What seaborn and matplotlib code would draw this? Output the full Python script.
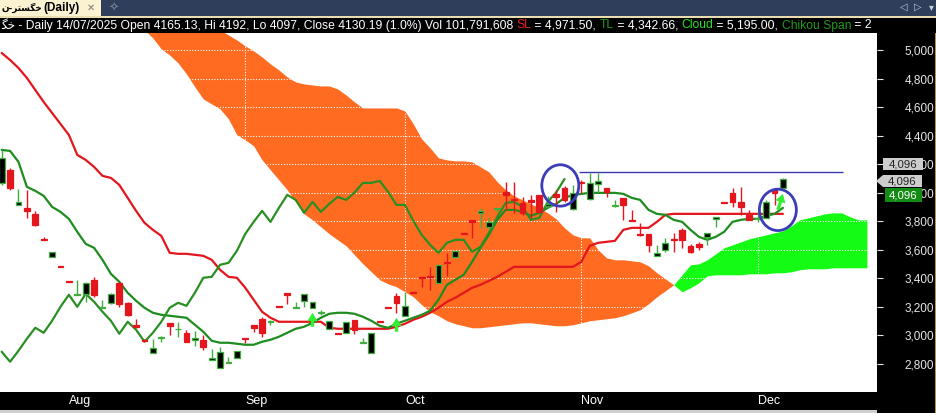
import numpy as np
import pandas as pd
import matplotlib
matplotlib.use("Agg")
import matplotlib.pyplot as plt
from matplotlib import font_manager
from matplotlib.patches import Rectangle, Ellipse, Polygon
import seaborn as sns

# ---- daily candles (bar 0 .. 93) ----
opens = [4069, 4160, 3915, 3894, 3852, 3677, 3551, 3488, 3383, 3285,
         3292, 3390, 3194, 3229, 3369, 3229, 3075, 2970, 2879, 2984,
         3089, 3043, 3019, 2970, 2970, 2830, 2774, 2809, 2844, 2984,
         3075, 3117, 3096, 3208, 3299, 3194, 3243, 3194, 3159, 3047,
         3019, 3019, 3110, 2949, 2879, 3103, 3201, 3278, 3138, 3306,
         3411, 3418, 3369, 3516, 3551, 3719, 3810, 3859, 3761, 3887,
         4006, 3957, 3929, 3950, 3985, 3908, 3992, 4034, 3887, 4076,
         3957, 4062, 4034, 3908, 3964, 3810, 3712, 3712, 3558, 3600,
         3677, 3740, 3628, 3642, 3691, 3817, 3936, 4001, 3936, 3845,
         3817, 3824, 4020, 4034]
highs = [4300, 4174, 4027, 4020, 3873, 3691, 3586, 3488, 3383, 3390,
         3376, 3411, 3250, 3299, 3376, 3236, 3117, 2977, 2977, 2998,
         3089, 3096, 3040, 3033, 3005, 2907, 2921, 2851, 2893, 2984,
         3075, 3131, 3110, 3208, 3299, 3236, 3292, 3236, 3180, 3103,
         3019, 3096, 3110, 2984, 3019, 3103, 3201, 3299, 3306, 3306,
         3411, 3481, 3502, 3579, 3593, 3719, 3810, 3894, 3831, 3894,
         4076, 4076, 3971, 3985, 3985, 3978, 4020, 4048, 4055, 4090,
         4139, 4139, 4034, 3950, 3964, 3880, 3789, 3712, 3635, 3684,
         3719, 3754, 3642, 3656, 3719, 3831, 3936, 4034, 4041, 3880,
         3866, 3950, 4020, 4104]
lows = [4055, 4020, 3915, 3824, 3768, 3670, 3551, 3481, 3376, 3285,
        3236, 3271, 3194, 3222, 3201, 3138, 3054, 2963, 2879, 2956,
        3005, 2991, 2956, 2928, 2900, 2830, 2774, 2809, 2844, 2949,
        3026, 2991, 3075, 3201, 3222, 3194, 3201, 3194, 3145, 3047,
        3012, 3019, 3012, 2949, 2879, 3096, 3194, 3159, 3138, 3299,
        3341, 3320, 3369, 3418, 3544, 3712, 3684, 3754, 3740, 3866,
        3880, 3859, 3845, 3824, 3859, 3894, 3866, 3936, 3880, 4001,
        3950, 4006, 3971, 3901, 3810, 3803, 3698, 3586, 3558, 3586,
        3586, 3614, 3579, 3600, 3635, 3761, 3929, 3901, 3845, 3810,
        3796, 3824, 3915, 4034]
closes = [4244, 4034, 3936, 3873, 3775, 3670, 3586, 3481, 3376, 3292,
          3369, 3285, 3201, 3292, 3222, 3145, 3061, 2963, 2914, 2991,
          3068, 3047, 2956, 2984, 2921, 2844, 2886, 2816, 2893, 2977,
          3054, 3019, 3103, 3201, 3285, 3201, 3292, 3236, 3166, 3103,
          3012, 3096, 3040, 2956, 3019, 3096, 3194, 3229, 3208, 3299,
          3404, 3411, 3495, 3509, 3593, 3712, 3796, 3873, 3796, 3894,
          3985, 3950, 3859, 3936, 3866, 3922, 3971, 3950, 4001, 4069,
          4069, 4083, 4006, 3915, 3915, 3803, 3705, 3635, 3579, 3649,
          3670, 3670, 3586, 3621, 3719, 3831, 3929, 3936, 3901, 3810,
          3824, 3936, 4001, 4096]

# ---- ichimoku lines ----
kijun = [4979, 4930, 4874, 4804, 4720, 4636, 4559, 4482, 4405, 4265,
         4230, 4181, 4118, 4104, 4055, 3964, 3873, 3789, 3740, 3698,
         3579, 3572, 3572, 3565, 3558, 3530, 3460, 3411, 3404, 3334,
         3250, 3166, 3124, 3096, 3096, 3096, 3096, 3096, 3096, 3054,
         3047, 3047, 3047, 3047, 3047, 3047, 3047, 3061, 3082, 3110,
         3131, 3159, 3194, 3236, 3264, 3299, 3334, 3355, 3383, 3411,
         3446, 3481, 3481, 3481, 3481, 3481, 3481, 3481, 3481, 3516,
         3628, 3649, 3656, 3663, 3740, 3754, 3754, 3754, 3796, 3845,
         3852, 3852, 3852, 3852, 3852, 3852, 3852, 3852, 3852, 3852,
         3852, 3852, 3852, 3852]
tenkan = [4300, 4293, 4216, 4041, 4013, 3978, 3901, 3866, 3817, 3726,
          3642, 3614, 3530, 3432, 3376, 3299, 3243, 3194, 3159, 3145,
          3138, 3131, 3124, 3075, 3026, 2963, 2949, 2949, 2942, 2935,
          2935, 2956, 2970, 2991, 3019, 3047, 3061, 3089, 3124, 3152,
          3159, 3159, 3152, 3131, 3103, 3068, 3054, 3082, 3103, 3124,
          3145, 3173, 3250, 3355, 3390, 3425, 3516, 3614, 3705, 3810,
          3880, 3880, 3866, 3838, 3859, 3894, 3922, 3964, 3985, 3992,
          3999, 3999, 3999, 3999, 3992, 3964, 3950, 3880, 3852, 3845,
          3810, 3796, 3740, 3691, 3670, 3691, 3726, 3796, 3810, 3817,
          3817, 3838, 3852, 3894]
# cloud, bars 12 .. 103
cloud_start = 12
senkou_a = [5490, 5420, 5350, 5266, 5196, 5140, 5084, 5007, 4965, 4909,
            4832, 4741, 4657, 4622, 4587, 4517, 4405, 4370, 4328, 4230,
            4160, 4090, 4020, 3936, 3852, 3810, 3761, 3712, 3670, 3628,
            3565, 3502, 3446, 3390, 3362, 3341, 3306, 3271, 3215, 3166,
            3138, 3103, 3082, 3068, 3054, 3054, 3061, 3068, 3075, 3082,
            3089, 3089, 3082, 3075, 3068, 3068, 3075, 3089, 3103, 3110,
            3117, 3124, 3138, 3159, 3180, 3222, 3271, 3313, 3355, 3425,
            3495, 3502, 3530, 3572, 3614, 3635, 3656, 3677, 3691, 3705,
            3719, 3733, 3768, 3810, 3824, 3838, 3852, 3859, 3859, 3831,
            3810, 3810]
senkou_b = [5630, 5595, 5560, 5525, 5490, 5434, 5385, 5336, 5280, 5245,
            5210, 5182, 5168, 5154, 5140, 5105, 5070, 5028, 4993, 4951,
            4902, 4860, 4811, 4776, 4762, 4755, 4748, 4748, 4727, 4685,
            4636, 4594, 4594, 4594, 4594, 4594, 4573, 4482, 4377, 4314,
            4244, 4230, 4223, 4223, 4216, 4181, 4146, 4076, 4020, 3978,
            3950, 3922, 3894, 3859, 3817, 3754, 3705, 3684, 3684, 3600,
            3544, 3530, 3530, 3523, 3516, 3488, 3439, 3397, 3355, 3306,
            3334, 3369, 3418, 3425, 3425, 3425, 3425, 3432, 3432, 3432,
            3439, 3439, 3446, 3460, 3467, 3467, 3467, 3474, 3474, 3474,
            3474, 3474]
chikou_shift = 26

month_labels = ["Aug", "Sep", "Oct", "Nov", "Dec"]
month_bars = [8, 29, 48, 69, 90]
price_ticks = list(range(2800, 5001, 200))

# annotations drawn on the chart
signal_bars = [37, 47, 93]
signal_tail = [3061, 3026, 3880]
signal_tip = [3159, 3124, 3992]
circle_bars = [66.5, 92.4]
circle_prices = [4051, 3880]
level_price = 4146
level_from, level_to = 68.7, 100.2
last_price_label = "4,096"

RED = "#E3161D"
UP = "#3FAE3F"
TL_GREEN = "#1F8C1F"
ORANGE = "#FF6B21"
LIME = "#14FC14"

sns.set_style("white")
plt.rcParams["font.family"] = ["Liberation Sans", "DejaVu Sans"]
names = {f.name for f in font_manager.fontManager.ttflist}
narrow = "Liberation Sans Narrow" if "Liberation Sans Narrow" in names else "Liberation Sans"

W, H = 937, 413
fig = plt.figure(figsize=(W / 100, H / 100), dpi=100, facecolor="black")
ax = fig.add_axes([0, 1 - 392 / H, 877 / W, (392 - 33) / H])
ax.set_facecolor("white")

x = np.arange(len(closes))
o, h, l, c = map(np.array, (opens, highs, lows, closes))

# cloud
cx = np.arange(cloud_start, cloud_start + len(senkou_a))
sa, sb = np.array(senkou_a), np.array(senkou_b)
ax.fill_between(cx, sa, sb, where=sb >= sa, interpolate=True, color=ORANGE, lw=0, zorder=1)
ax.fill_between(cx, sa, sb, where=sa >= sb, interpolate=True, color=LIME, lw=0, zorder=1)

# dotted white grid (only shows on the cloud)
for p in price_ticks:
    ax.axhline(p, color="white", ls=(0, (1, 1.5)), lw=0.8, zorder=1.5)
for m in month_bars:
    ax.axvline(m, color="white", ls=(0, (1, 1.5)), lw=0.8, zorder=1.5)

# ichimoku lines
lines = pd.DataFrame({"bar": x, "kijun": kijun, "tenkan": tenkan})
sns.lineplot(data=lines, x="bar", y="kijun", color=RED, lw=1.6, ax=ax, zorder=2)
sns.lineplot(data=lines, x="bar", y="tenkan", color=TL_GREEN, lw=1.6, ax=ax, zorder=2)
chikou = pd.DataFrame({"bar": x[:len(x) - chikou_shift], "close": c[chikou_shift:]})
sns.lineplot(data=chikou, x="bar", y="close", color="#2A8F22", lw=1.6, ax=ax, zorder=2)

# candles
up = c >= o
body_lo = np.minimum(o, c)
body_h = np.maximum(np.abs(c - o), 4)
ax.vlines(x[up], l[up], h[up], color=UP, lw=1, zorder=3)
ax.vlines(x[~up], l[~up], h[~up], color=RED, lw=1, zorder=3)
ax.bar(x[up], body_h[up], bottom=body_lo[up], width=0.7, color="black",
       edgecolor=UP, lw=0.9, zorder=4)
ax.bar(x[~up], body_h[~up], bottom=body_lo[~up], width=0.7, color=RED,
       edgecolor=RED, lw=0.9, zorder=4)

# signal arrows, circles, level line
for b, t0, t1 in zip(signal_bars, signal_tail, signal_tip):
    ax.annotate("", xy=(b, t1), xytext=(b - (0.6 if b == signal_bars[-1] else 0), t0),
                arrowprops=dict(width=2.4, headwidth=7.5, headlength=6, color="#33EE33", lw=0),
                zorder=5)
ax.hlines(level_price, level_from, level_to, color="#3A3AAA", lw=1, zorder=2)
for cb, cp in zip(circle_bars, circle_prices):
    ax.add_patch(Ellipse((cb, cp), 4.4, 290, fill=False, ec="#3C3CB8", lw=2, zorder=6))

ax.set_xlim(-0.2, 104.2)
ax.set_ylim(2604, 5119)
ax.set_xlabel("")
ax.set_ylabel("")
for s in ax.spines.values():
    s.set_visible(False)
ax.yaxis.tick_right()
ax.set_yticks(price_ticks)
ax.set_yticklabels([f"{p:,}" for p in price_ticks])
ax.tick_params(axis="y", colors="#E6E6E6", length=4, width=0.8, pad=16, labelsize=8.5)
ax.set_xticks(month_bars)
ax.set_xticklabels(month_labels, ha="left", fontsize=9, family=narrow)
ax.tick_params(axis="x", colors="white", length=3, width=0.8, pad=-1)

# ---- window chrome (pixel coordinates) ----
ov = fig.add_axes([0, 0, 1, 1], zorder=10)
ov.set_xlim(0, W)
ov.set_ylim(H, 0)
ov.axis("off")
ov.patch.set_visible(False)
r = fig.canvas.get_renderer()


def seg_width(s, **kw):
    t = ov.text(0, 0, "|" + s + "|", **kw)
    w1 = t.get_window_extent(r).width
    t.set_text("||")
    w2 = t.get_window_extent(r).width
    t.remove()
    return w1 - w2


ov.add_patch(Rectangle((0, 0), W, 17, fc="#2F3E5B", ec="none"))
ov.add_patch(Rectangle((0, 16), W, 1.5, fc="#E9DCB0", ec="none"))
ov.add_patch(Rectangle((0, 0), 101, 16, fc="#FBF2D2", ec="none"))
name_visual = "\uFEE5-\uFEAE\uFE98\uFEB4\uFB95\uFEA7"
ov.text(1, 8, name_visual, ha="left", va="center", fontsize=6.4, color="black",
        family=["DejaVu Sans"], fontweight="bold")
ov.text(43, 8, "(Daily)", ha="left", va="center", fontsize=8.5, color="black",
        fontweight="bold")
ov.text(91, 8, "\u2715", ha="center", va="center", fontsize=7, color="#777777", family=["DejaVu Sans"])
ov.text(114, 8, "\u2727", ha="center", va="center", fontsize=9, color="#7D8799", family=["DejaVu Sans"])
for xx, s in zip([904, 918, 931], ["\u25C1", "\u25B7", "\u25BE"]):
    ov.text(xx, 7, s, ha="center", va="center", fontsize=7, color="#C9CED8", family=["DejaVu Sans"])

info = [
    (" - Daily 14/07/2025 Open 4165.13, Hi 4192, Lo 4097, Close 4130.19 (1.0%) Vol 101,791,608 ", "white"),
    ("SL", "#E52020"),
    (" = 4,971.50, ", "white"),
    ("TL", "#1E9E1E"),
    (" = 4,342.66, ", "white"),
    ("Cloud", "#22E022"),
    (" = 5,195.00, ", "white"),
    ("Chikou Span", "#1E9A1E"),
    (" = 2", "white"),
]
fs_info = 8.75
ov.text(15, 25.5, "\uFB95\uFEA7", ha="right", va="center", fontsize=fs_info, color="white",
        family=["DejaVu Sans"])
xpos = 15
for s, col in info:
    ov.text(xpos, 25.5, s, ha="left", va="center", fontsize=fs_info, color=col)
    xpos += seg_width(s, fontsize=fs_info)
ov.add_patch(Rectangle((874, 18), W - 874, 15, fc="black", ec="none"))

# last price boxes on the right scale (they hide most of the 4,200 / 4,000 labels)
ov.add_patch(Rectangle((883, 158), 40, 12, fc="#CDCDCD", ec="none"))
ov.text(903, 164.5, last_price_label, ha="center", va="center", fontsize=8.2, color="#222222")
ov.add_patch(Polygon([(876, 181), (883, 175), (883, 187)], fc="#CDCDCD", ec="none"))
ov.add_patch(Rectangle((883, 175), 39, 12, fc="#CDCDCD", ec="none"))
ov.text(902.5, 181.5, last_price_label, ha="center", va="center", fontsize=8.2, color="#222222")
ov.add_patch(Rectangle((885, 188), 37, 14, fc="#138C13", ec="none"))
ov.text(903.5, 195.5, last_price_label, ha="center", va="center", fontsize=8.2, color="white")
ov.add_patch(Rectangle((935, 33), 1.5, H - 33, fc="#B8943C", ec="none"))
ov.add_patch(Rectangle((0, 410), 877, 3, fc="#CFCFCF", ec="none"))

fig.savefig("out.png", dpi=100, facecolor="black")
